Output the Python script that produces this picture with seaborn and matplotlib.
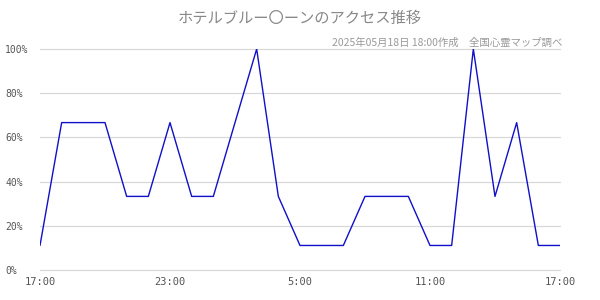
import matplotlib
matplotlib.use("Agg")
import matplotlib.pyplot as plt
import seaborn as sns
import pandas as pd
import numpy as np

hours = ["17:00", "18:00", "19:00", "20:00", "21:00", "22:00", "23:00", "0:00",
         "1:00", "2:00", "3:00", "4:00", "5:00", "6:00", "7:00", "8:00", "9:00",
         "10:00", "11:00", "12:00", "13:00", "14:00", "15:00", "16:00", "17:00"]
access = [11.1, 66.7, 66.7, 66.7, 33.3, 33.3, 66.7, 33.3, 33.3, 66.7, 100, 33.3,
          11.1, 11.1, 11.1, 33.3, 33.3, 33.3, 11.1, 11.1, 100, 33.3, 66.7, 11.1, 11.1]
xtick_labels = ["17:00", "23:00", "5:00", "11:00", "17:00"]
ytick_values = [0, 20, 40, 60, 80, 100]
title = "ホテルブルー〇ーンのアクセス推移"
subtitle = "2025年05月18日 18:00作成　全国心霊マップ調べ"

sns.set_theme(style="white")
plt.rcParams['font.family'] = ['Noto Sans CJK JP', 'DejaVu Sans']

df = pd.DataFrame({"idx": np.arange(len(access)), "val": access})

fig = plt.figure(figsize=(6, 3), dpi=100)
ax = fig.add_axes([40/600, 30/300, 520/600, 221/300])
sns.lineplot(data=df, x="idx", y="val", ax=ax, color="#1010c8", linewidth=1.0)

ax.set_xlim(0, len(access) - 1)
ax.set_ylim(0, 100)
ax.set_yticks(ytick_values)
ax.set_yticklabels([f"{v}%" for v in ytick_values], fontsize=7, color="#555555",
                   family=['DejaVu Sans Mono'], ha='left')
ax.set_xticks([0, 6, 12, 18, 24])
ax.set_xticklabels(xtick_labels, fontsize=7.5, color="#555555", family=['DejaVu Sans Mono'])
ax.tick_params(axis='y', length=0, pad=25)
ax.tick_params(axis='x', length=0, pad=5)
ax.set_xlabel("")
ax.set_ylabel("")
for s in ax.spines.values():
    s.set_visible(False)
ax.yaxis.grid(True, color="#d8d8d8", linewidth=0.9)
ax.xaxis.grid(False)
ax.set_axisbelow(True)
for gl in ax.get_ygridlines():
    gl.set_clip_on(False)

fig.text(0.5, 1 - 18/300, title, ha="center", va="center", fontsize=11, color="#888888",
         family=['Noto Sans CJK JP', 'DejaVu Sans'])
fig.text(562/600, 1 - 43/300, subtitle, ha="right", va="center", fontsize=7.5, color="#999999")

fig.savefig("out.png", dpi=100)
